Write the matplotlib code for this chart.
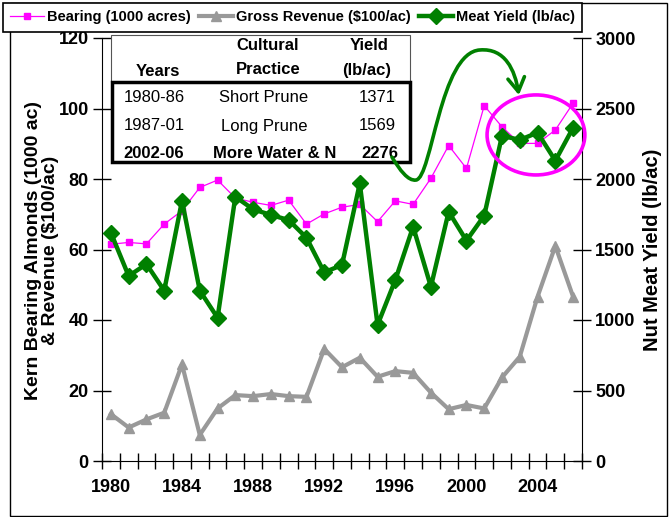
import matplotlib
matplotlib.use('Agg')
import matplotlib.pyplot as plt
from matplotlib.patches import Rectangle, Ellipse, FancyArrowPatch
from matplotlib.path import Path
from matplotlib.ticker import FixedLocator

plt.rcParams['font.family'] = ['Liberation Sans', 'DejaVu Sans']

# data
years = list(range(1980, 2007))
bearing = [61.5, 62.0, 61.6, 67.2, 71.0, 77.6, 79.7, 74.6, 73.4, 72.5, 74.0, 67.2, 70.1, 72.0,
           72.8, 67.9, 73.8, 72.8, 80.2, 89.5, 83.0, 100.8, 94.8, 90.1, 90.1, 93.9, 101.5]
revenue = [13.3, 9.5, 11.8, 13.7, 27.4, 7.4, 14.9, 18.7, 18.4, 19.0, 18.4, 18.2, 31.8, 26.6,
           29.3, 23.9, 25.5, 25.0, 19.4, 14.7, 15.9, 14.9, 23.7, 29.6, 46.6, 61.0, 46.6]
meat_yield = [1619, 1312, 1397, 1208, 1846, 1208, 1016, 1874, 1785, 1745, 1709, 1584, 1338, 1390,
              1969, 965, 1284, 1662, 1236, 1768, 1563, 1740, 2307, 2277, 2329, 2130, 2364]

periods = ['1980-86', '1987-01', '2002-06']
practices = ['Short Prune', 'Long Prune', 'More Water & N']
period_yield = ['1371', '1569', '2276']

W, H = 669, 517


def fxy(x, y):
    # pixel position -> figure fraction
    return x / W, 1 - y / H


fig = plt.figure(figsize=(W / 100, H / 100), dpi=100)
ax = fig.add_axes([102 / W, 1 - 461 / H, 480 / W, 423 / H])
ax2 = ax.twinx()

l1, = ax.plot(years, bearing, color='#FF00FF', lw=0.9, marker='s', ms=5,
              label='Bearing (1000 acres)')
l2, = ax.plot(years, revenue, color='#999999', lw=3, marker='^', ms=7.5,
              label='Gross Revenue ($100/ac)')
l3, = ax2.plot(years, meat_yield, color='#008000', lw=3.2, marker='D', ms=8,
               label='Meat Yield (lb/ac)')

ax.set_xlim(1979.5, 2006.5)
ax.set_ylim(0, 120)
ax2.set_ylim(0, 3000)
ax.set_yticks(range(0, 121, 20))
ax2.set_yticks(range(0, 3001, 500))
ax.set_xticks(range(1980, 2005, 4))
ax.xaxis.set_minor_locator(FixedLocator([1979.5 + k for k in range(28)]))
ax.tick_params(axis='x', which='major', length=0, pad=13, labelsize=13)
ax.tick_params(axis='x', which='minor', direction='inout', length=11, width=1)
ax.tick_params(axis='y', direction='inout', length=13, width=1, pad=3, labelsize=13)
ax2.tick_params(axis='y', direction='inout', length=13, width=1, pad=3, labelsize=13)
for tl in ax.get_xticklabels() + ax.get_yticklabels() + ax2.get_yticklabels():
    tl.set_fontweight('bold')

for s in ['top', 'right']:
    ax.spines[s].set_visible(False)
for s in ['top', 'left', 'bottom']:
    ax2.spines[s].set_visible(False)

# axis titles
fig.text(*fxy(42, 250), 'Kern Bearing Almonds (1000 ac)\n& Revenue ($100/ac)', rotation=90,
         ha='center', va='center', fontsize=14, fontweight='bold', linespacing=0.95)
fig.text(*fxy(653, 250), 'Nut Meat Yield (lb/ac)', rotation=90, ha='center', va='center',
         fontsize=14.5, fontweight='bold')

# outer frame
fig.add_artist(Rectangle(fxy(10, 516), 657 / W, 513 / H, transform=fig.transFigure,
                         fill=False, ec='black', lw=1, zorder=0))

leg = fig.legend([l1, l2, l3], [l1.get_label(), l2.get_label(), l3.get_label()],
                 loc='upper left', bbox_to_anchor=fxy(3, 3), ncol=3, fancybox=False,
                 edgecolor='black', framealpha=1, prop={'weight': 'bold', 'size': 10.5},
                 handlelength=2.3, handletextpad=0.2, columnspacing=0.6, borderpad=0.5,
                 borderaxespad=0)
leg.get_frame().set_linewidth(1.2)

# table box
fig.add_artist(Rectangle(fxy(111, 82), 299 / W, 47 / H, transform=fig.transFigure,
                         fc='white', ec='#555555', lw=0.8, zorder=3))
fig.add_artist(Rectangle(fxy(112, 162), 298 / W, 80 / H, transform=fig.transFigure,
                         fc='white', ec='black', lw=2.5, zorder=3))
hdr = dict(ha='center', va='center', fontsize=12, fontweight='bold', zorder=4)
fig.text(*fxy(158, 71), 'Years', **hdr)
fig.text(*fxy(268, 46), 'Cultural', **hdr)
fig.text(*fxy(268, 70), 'Practice', **hdr)
fig.text(*fxy(369, 46), 'Yield', **hdr)
fig.text(*fxy(367, 70), '(lb/ac)', **hdr)
row_y = [98, 126, 153]
for i in range(3):
    w = 'bold' if i == 2 else 'normal'
    kw = dict(ha='center', va='center', fontsize=12, fontweight=w, zorder=4)
    fig.text(*fxy(154, row_y[i]), periods[i], **kw)
    fig.text(*fxy(264 if i < 2 else 275, row_y[i]), practices[i], **kw)
    fig.text(*fxy(377 if i < 2 else 380, row_y[i]), period_yield[i], **kw)

# curved arrow and highlight ellipse (in left-axis data units)
verts = [(1995.81, 86.2), (1996.26, 82.5), (1996.71, 79.4), (1997.16, 79.7),
         (1998.06, 80.3), (1998.51, 116.0), (2000.76, 116.6),
         (2002.17, 117.2), (2002.73, 110.9), (2002.95, 103.8)]
codes = [Path.MOVETO] + [Path.CURVE4] * 9
arrow = FancyArrowPatch(path=Path(verts, codes), arrowstyle='->,head_length=0.5,head_width=0.3',
                        mutation_scale=20, lw=2.6, color='#008000',
                        transform=ax.transData, zorder=5)
arrow.set_clip_on(False)
fig.add_artist(arrow)
ell = Ellipse((2003.91, 92.5), 5.5, 22.7, transform=ax.transData, fill=False,
              ec='#FF00FF', lw=2.6, zorder=5)
ell.set_clip_on(False)
fig.add_artist(ell)

fig.savefig('out.png', dpi=100)
